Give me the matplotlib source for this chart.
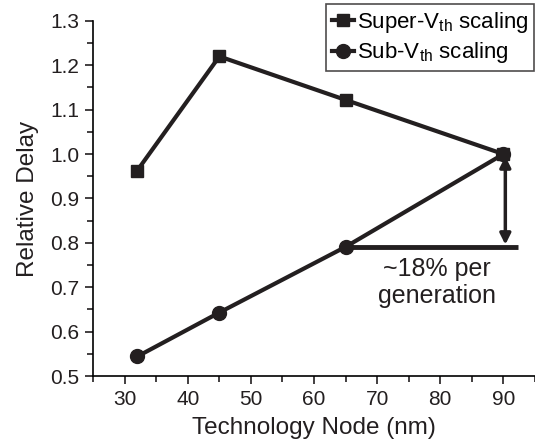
import matplotlib
matplotlib.use("Agg")
import matplotlib.pyplot as plt
from matplotlib.ticker import MultipleLocator

plt.rcParams['font.family'] = ['Liberation Sans', 'DejaVu Sans']

# relative delay vs. technology node
node = [32, 45, 65, 90]
super_vth = [0.963, 1.220, 1.122, 1.0]
sub_vth = [0.544, 0.643, 0.791, 1.0]

fig = plt.figure(figsize=(5.35, 4.45), dpi=100)
ax = fig.add_axes([0.174, 0.155, 0.826, 0.798])

ax.plot(node, super_vth, 's-', color='#231f20', lw=3, ms=9, label='Super-V$_{\\mathregular{th}}$ scaling')
ax.plot(node, sub_vth, 'o-', color='#231f20', lw=3, ms=10, label='Sub-V$_{\\mathregular{th}}$ scaling')

# ~18% gap between the two curves per generation
ax.plot([65, 92.3], [sub_vth[2], sub_vth[2]], color='#231f20', lw=3.5, solid_capstyle='butt')
ax.annotate('', xy=(90.3, sub_vth[3] - 0.005), xytext=(90.3, sub_vth[2] + 0.005),
            arrowprops=dict(arrowstyle='<|-|>', color='#231f20', lw=2.5,
                            mutation_scale=16, shrinkA=0, shrinkB=0))
ax.text(79.5, 0.71, '~18% per\ngeneration', fontsize=18, ha='center', va='center',
        linespacing=1.15, color='#231f20')

ax.set_xlim(25, 95)
ax.set_ylim(0.5, 1.3)
ax.xaxis.set_major_locator(MultipleLocator(10))
ax.xaxis.set_minor_locator(MultipleLocator(5))
ax.yaxis.set_major_locator(MultipleLocator(0.1))
ax.yaxis.set_minor_locator(MultipleLocator(0.05))
ax.yaxis.set_major_formatter(plt.FormatStrFormatter('%.1f'))

for side in ['top', 'right']:
    ax.spines[side].set_visible(False)
for side in ['left', 'bottom']:
    ax.spines[side].set_linewidth(1.2)
ax.tick_params(which='both', direction='out', width=1.2, labelsize=15, colors='#231f20')
ax.tick_params(which='major', length=6, pad=4)
ax.tick_params(which='minor', length=4)

ax.set_xlabel('Technology Node (nm)', fontsize=17.5, color='#231f20', labelpad=6)
ax.set_ylabel('Relative Delay', fontsize=17.5, color='#231f20', labelpad=8)

leg = ax.legend(loc='upper right', bbox_to_anchor=(0.998, 1.047), fontsize=16, frameon=True,
                fancybox=False, edgecolor='#231f20', handlelength=1.0, handletextpad=0.15,
                borderpad=0.25, labelspacing=0.25, borderaxespad=0)
leg.get_frame().set_linewidth(1.2)

fig.savefig('out.png', dpi=100)
